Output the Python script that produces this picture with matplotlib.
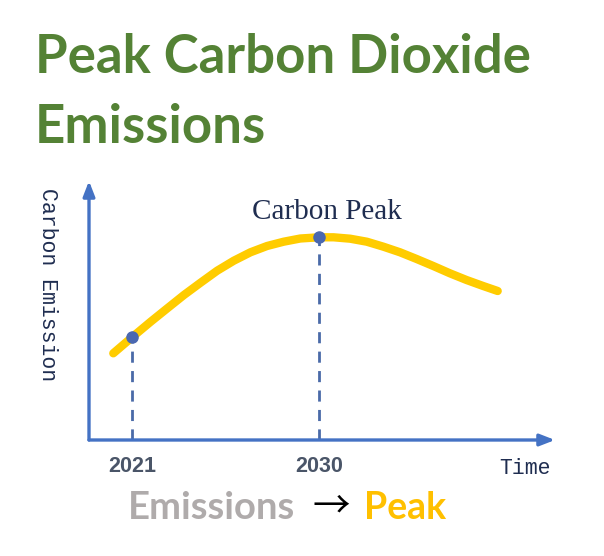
import matplotlib
matplotlib.use("Agg")
import matplotlib.pyplot as plt

# ---- data ----
years = [2020.1, 2021.0, 2021.9, 2022.7, 2023.5, 2024.3, 2025.1, 2025.9, 2026.7, 2027.5,
         2028.3, 2029.1, 2030.0, 2030.7, 2031.5, 2032.3, 2033.1, 2033.9, 2034.7, 2035.5,
         2036.3, 2037.1, 2037.9, 2038.6]
emission = [86.7, 102.7, 118.3, 131.7, 145.0, 157.3, 169.3, 179.3, 187.7, 194.0,
            198.3, 201.5, 202.7, 202.7, 201.3, 198.3, 193.3, 187.7, 181.0, 174.0,
            166.7, 160.0, 154.0, 149.0]
marked_years = [2021, 2030]
marked_values = [102.7, 202.7]
tick_labels = ["2021", "2030"]

W, H = 604, 556
fig = plt.figure(figsize=(W / 100, H / 100), dpi=100)
fig.patch.set_facecolor("white")

def fx(px):
    return px / W

def fy(py):
    return 1 - py / H

# axes region in pixels
x0, x1 = 89, 555
y_bottom, y_top = 440, 181
ax = fig.add_axes([fx(x0), fy(y_bottom), fx(x1) - fx(x0), fy(y_top) - fy(y_bottom)])
px_per_year = (319 - 132) / 9.0
xmin = 2021 + (x0 - 132) / px_per_year
xmax = 2021 + (x1 - 132) / px_per_year
ax.set_xlim(xmin, xmax)
ax.set_ylim(0, y_bottom - y_top)
ax.axis("off")

axis_blue = "#4472C4"
# axis arrows
ax.annotate("", xy=(0, 1.0), xytext=(0, 0), xycoords="axes fraction",
            arrowprops=dict(arrowstyle="-|>,head_length=0.9,head_width=0.35", color=axis_blue, lw=2.4,
                            shrinkA=0, shrinkB=0), annotation_clip=False)
ax.annotate("", xy=(1.0, 0), xytext=(0, 0), xycoords="axes fraction",
            arrowprops=dict(arrowstyle="-|>,head_length=0.9,head_width=0.35", color=axis_blue, lw=2.4,
                            shrinkA=0, shrinkB=0), annotation_clip=False)

# dashed guides
for yr, v in zip(marked_years, marked_values):
    ax.plot([yr, yr], [0, v], color="#4a6aa8", lw=2.0, ls=(0, (4, 3)), zorder=2)

# curve
ax.plot(years, emission, color="#FFCC00", lw=6, solid_capstyle="round", solid_joinstyle="round", zorder=3)
ax.plot(marked_years, marked_values, "o", color="#4a68b0", ms=8, zorder=4)

# tick labels
for yr, lab in zip(marked_years, tick_labels):
    ax.text(yr, -27, lab, ha="center", va="center", fontsize=15.5, fontweight="bold",
            color="#4a5568", family="Liberation Sans")

# axis labels
fig.text(fx(47), fy(285), "Carbon Emission", rotation=270, ha="center", va="center",
         fontsize=15.5, color="#1f2d50", family="Liberation Mono")
fig.text(fx(525), fy(469), "Time", ha="center", va="center", fontsize=15.5,
         color="#1f2d50", family="Liberation Mono")
fig.text(fx(327), fy(212), "Carbon Peak", ha="center", va="center", fontsize=21,
         color="#1f2d50", family="Liberation Serif")

# title
green = "#548235"
fig.text(fx(35), fy(73), "Peak Carbon Dioxide", ha="left", va="baseline", fontsize=38,
         fontweight="bold", color=green, family="Lato")
fig.text(fx(35), fy(143), "Emissions", ha="left", va="baseline", fontsize=38,
         fontweight="bold", color=green, family="Lato")

# bottom caption
fig.text(fx(128), fy(519), "Emissions", ha="left", va="baseline", fontsize=27.5,
         fontweight="bold", color="#AFABAB", family="Lato")
fig.text(fx(331), fy(507), "\u2192", ha="center", va="center", fontsize=27,
         color="black", family=["Noto Sans CJK SC", "DejaVu Sans"])
fig.text(fx(364), fy(519), "Peak", ha="left", va="baseline", fontsize=27,
         fontweight="bold", color="#FFC000", family="Lato")

fig.savefig("out.png", dpi=100, facecolor="white")
